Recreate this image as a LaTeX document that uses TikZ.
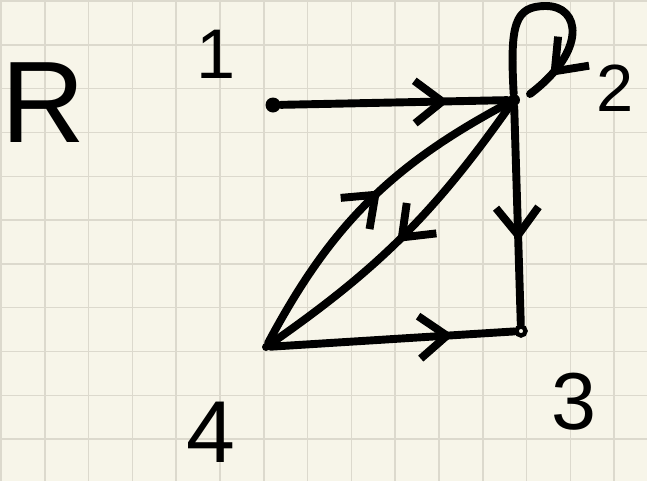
\documentclass[tikz,border=0pt]{standalone}
\usepackage{fontspec}
\setmainfont{Liberation Sans}
\usetikzlibrary{arrows.meta,positioning,calc,decorations.markings}
\definecolor{paper}{HTML}{F7F5E9}
\definecolor{gridc}{HTML}{DCD9CD}
\tikzset{
  vertex/.style={circle, fill=black, inner sep=0pt, minimum size=0.24cm},
  edge/.style={line width=4.5pt, line cap=round, line join=round},
  midarrow/.style={postaction={decorate}, decoration={markings,
      mark=at position #1 with {\arrow[line cap=round,line join=round]{Straight Barb[length=0.55cm,width=0.85cm]}}}},
  lab/.style={inner sep=0pt, font=\fontsize{#1}{#1}\selectfont}
}

\begin{document}
\begin{tikzpicture}[x=0.02cm, y=-0.02cm]
  \useasboundingbox (0,0) rectangle (647,481);
  \fill[paper] (0,0) rectangle (647,481);
  \foreach \i in {0,...,14}
    \draw[gridc, line width=0.8pt] ({\i*43.8+1},0) -- ({\i*43.8+1},481);
  \foreach \j in {0,...,10}
    \draw[gridc, line width=0.8pt] (0,{\j*43.8+1}) -- (647,{\j*43.8+1});

  % relation name and vertex labels
  \node[lab=66pt] (rel) at (43,103) {R};
  \node[lab=40pt] (l1) at (216,54) {1};
  \node[lab=38pt] (l2) at (615,88) {2};
  \node[lab=46pt] (l3) at (574,402) {3};
  \node[lab=50pt] (l4) at (211,432) {4};

  % vertices
  \node[vertex, minimum size=0.3cm] (v1) at (273,105) {};
  \node[vertex] (v2) at (514,100) {};
  \node[vertex, fill=none, draw, line width=2.5pt, minimum size=0.18cm] (v3) at (521,331) {};
  \node[vertex, minimum size=0.16cm] (v4) at (266,347) {};
  \coordinate (looptop) at (546,6);
  \coordinate (loopend) at (530,94);

  % edges
  \draw[edge, midarrow=0.74] (v1) -- (v2);
  \draw[edge, midarrow=0.62] (v2) -- (v3);
  \draw[edge, midarrow=0.55] (v4) to[bend left=17] (v2);
  \draw[edge, midarrow=0.52] (v2) to[bend left=10] (v4);
  \draw[edge, midarrow=0.75] (v4) -- (v3);
  \draw[edge, midarrow=0.88] (v2) .. controls (510,25) and (514,6) .. (looptop)
    .. controls (580,6) and (588,50) .. (loopend);
\end{tikzpicture}
\end{document}
